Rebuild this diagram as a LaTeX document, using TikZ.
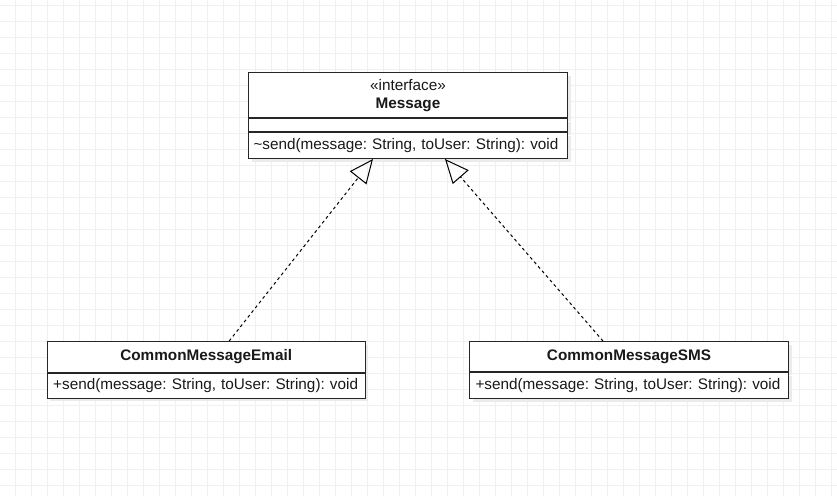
\documentclass[tikz,border=0pt]{standalone}
\usepackage{fontspec}
\setmainfont{Liberation Sans}
\usetikzlibrary{arrows.meta,shadows,calc}
\begin{document}
\frenchspacing
\begin{tikzpicture}[x=1pt,y=-1pt,
  gridline/.style={draw=black!6, line width=1pt},
  umlbox/.style={draw=black!85, line width=1pt, fill=white, inner sep=0pt, anchor=north west,
    font=\fontsize{15.3}{17.8}\selectfont, text=black!90,
    general shadow={shadow xshift=3pt, shadow yshift=-3pt, fill=black!8}},
  membox/.style={umlbox, inner xsep=5pt, align=left},
  realize/.style={draw=black, line width=1pt, dash pattern=on 3pt off 3pt,
    -{Triangle[open, length=24pt, width=21pt, line width=1pt]}}
]
\useasboundingbox (0,0) rectangle (837,496);
\fill[white] (0,0) rectangle (837,496);
\foreach \x in {15.5,31.5,...,837} \draw[gridline] (\x,0) -- (\x,496);
\foreach \y in {5,21,...,496} \draw[gridline] (0,\y) -- (837,\y);

% Message interface
\node[umlbox, minimum width=319pt, minimum height=45pt, align=center] (msgh) at (248,72.3)
  {«interface»\\\textbf{Message}};
\node[umlbox, minimum width=319pt, minimum height=12.7pt] (msga) at (msgh.south west) {};
\node[membox, minimum width=319pt, minimum height=26pt, text width=309pt] (msgm) at (msga.south west)
  {\mbox{\textasciitilde send(message: String, toUser: String): void}};

% CommonMessageEmail
\node[umlbox, minimum width=318pt, minimum height=30.7pt] (emailh) at (46.7,341)
  {\textbf{CommonMessageEmail}};
\node[membox, minimum width=318pt, minimum height=25pt, text width=306pt, inner xsep=6pt] (emailm) at (emailh.south west)
  {\mbox{+send(message: String, toUser: String): void}};

% CommonMessageSMS
\node[umlbox, minimum width=319pt, minimum height=30pt] (smsh) at (469,341)
  {\textbf{CommonMessageSMS}};
\node[membox, minimum width=319pt, minimum height=26pt, text width=307pt, inner xsep=6pt] (smsm) at (smsh.south west)
  {\mbox{+send(message: String, toUser: String): void}};

% realization connectors
\coordinate (eTop) at ($(emailh.north)+(23,0)$);
\coordinate (mL) at ($(msgm.south)+(-35,0)$);
\coordinate (sTop) at ($(smsh.north)+(-26,0)$);
\coordinate (mR) at ($(msgm.south)+(37,0)$);
\draw[realize] (eTop) -- (mL);
\draw[realize] (sTop) -- (mR);
\end{tikzpicture}
\end{document}
